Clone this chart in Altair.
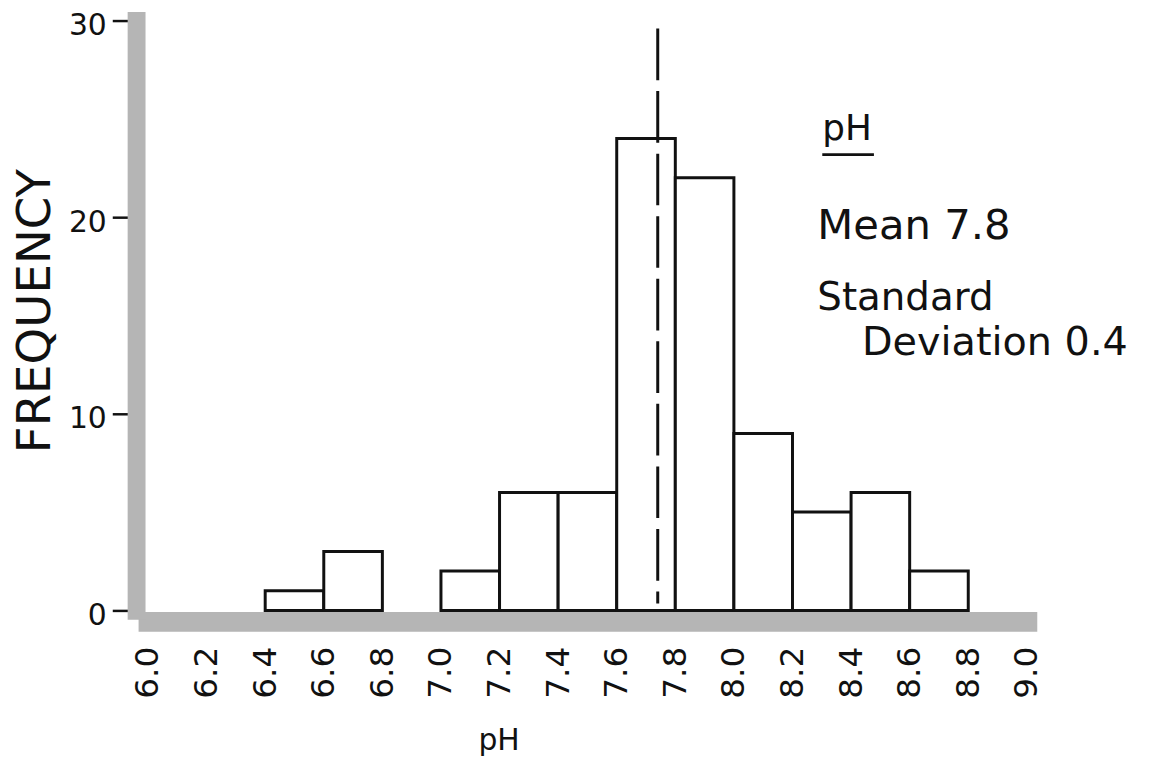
import altair as alt
import pandas as pd

# ---- data ----
bin_start = [6.4, 6.6, 7.0, 7.2, 7.4, 7.6, 7.8, 8.0, 8.2, 8.4, 8.6]
bin_end = [6.6, 6.8, 7.2, 7.4, 7.6, 7.8, 8.0, 8.2, 8.4, 8.6, 8.8]
frequency = [1, 3, 2, 6, 6, 24, 22, 9, 5, 6, 2]
x_tick_values = [6.0, 6.2, 6.4, 6.6, 6.8, 7.0, 7.2, 7.4, 7.6, 7.8, 8.0, 8.2, 8.4, 8.6, 8.8, 9.0]
y_tick_values = [0, 10, 20, 30]
mean_line = [7.74]
legend_head = ["pH"]
legend_lines = ["Mean 7.8", "Standard", "Deviation 0.4"]

FONT = "DejaVu Sans"
INK = "#111111"
GRAY = "#b5b5b5"

hist = pd.DataFrame({"start": bin_start, "end": bin_end, "freq": frequency})
mean_df = pd.DataFrame({"m": mean_line})

x_scale = alt.Scale(domain=[6.0, 9.0], nice=False, zero=False)
y_scale = alt.Scale(domain=[0, 30], nice=False)

bars = alt.Chart(hist).mark_bar(fill="white", stroke=INK, strokeWidth=3).encode(
    x=alt.X(
        "start:Q",
        scale=x_scale,
        title="pH",
        axis=alt.Axis(
            values=x_tick_values,
            format=".1f",
            labelAngle=270,
            labelFont=FONT,
            labelFontSize=33,
            labelColor=INK,
            labelPadding=25,
            ticks=False,
            tickSize=0,
            domainColor=GRAY,
            domainWidth=20,
            domainCap="square",
            offset=11,
            grid=False,
            titleFont=FONT,
            titleFontSize=30,
            titleFontWeight="normal",
            titleColor=INK,
            titleX=353,
            titleY=129,
            titleAlign="center",
            titleBaseline="alphabetic",
        ),
    ),
    x2="end:Q",
    y=alt.Y(
        "freq:Q",
        scale=y_scale,
        title="FREQUENCY",
        axis=alt.Axis(
            values=y_tick_values,
            labelFont=FONT,
            labelFontSize=30,
            labelColor=INK,
            labelPadding=6,
            labelOffset=5,
            tickSize=24,
            tickWidth=2.5,
            tickColor=INK,
            domainColor=GRAY,
            domainWidth=18,
            domainCap="square",
            offset=12,
            grid=False,
            titleFont=FONT,
            titleFontSize=47,
            titleFontWeight="normal",
            titleColor=INK,
            titleAngle=270,
            titleX=-87,
            titleY=292,
            titleAlign="center",
            titleBaseline="alphabetic",
        ),
    ),
    y2=alt.datum(0),
)

mean_rule = alt.Chart(mean_df).mark_rule(
    color=INK, strokeWidth=3, strokeDash=[52, 11]
).encode(
    x=alt.X("m:Q", scale=x_scale),
    y=alt.value(8),
    y2=alt.value(587),
)

head = alt.Chart(pd.DataFrame({"t": legend_head})).mark_text(
    font=FONT, fontSize=36, color=INK, align="left", baseline="alphabetic"
).encode(text="t:N", x=alt.value(679), y=alt.value(120))

underline = alt.Chart(pd.DataFrame({"t": legend_head})).mark_rule(
    color=INK, strokeWidth=3
).encode(x=alt.value(679), x2=alt.value(731), y=alt.value(135))

line_pos = [(674, 220), (674, 291), (719, 337)]
line_size = [42, 39, 40]
texts = []
for txt, (px, py), fs in zip(legend_lines, line_pos, line_size):
    texts.append(
        alt.Chart(pd.DataFrame({"t": [txt]})).mark_text(
            font=FONT, fontSize=fs, color=INK, align="left", baseline="alphabetic"
        ).encode(text="t:N", x=alt.value(px), y=alt.value(py))
    )

chart = alt.layer(bars, mean_rule, head, underline, *texts).properties(
    width=885,
    height=594,
    autosize=alt.AutoSizeParams(type="none"),
    padding={"left": 141, "top": 10, "right": 121, "bottom": 150},
    background="white",
).configure_view(stroke=None)

chart.save("out.html", embed_options={"renderer": "svg", "actions": False})
